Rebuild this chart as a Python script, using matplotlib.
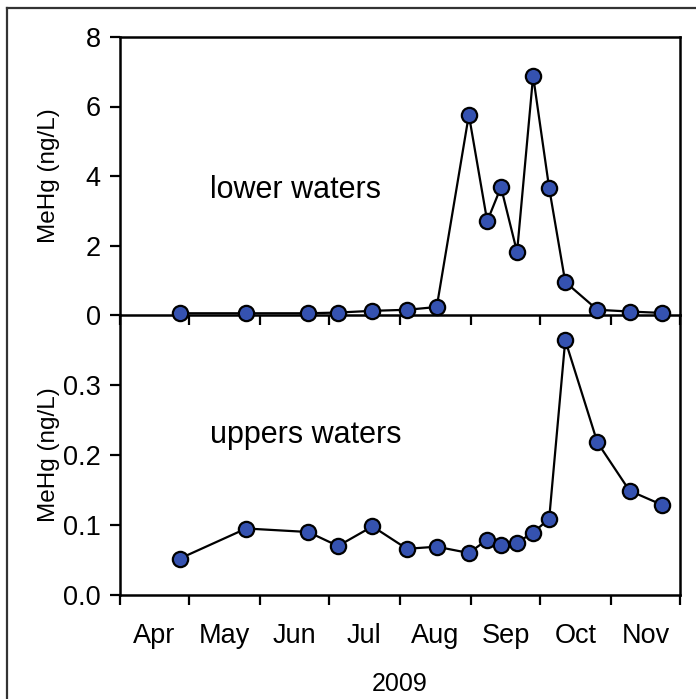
import matplotlib
matplotlib.use('Agg')
import matplotlib.pyplot as plt
import matplotlib.dates as mdates
import pandas as pd
from matplotlib.lines import Line2D
###############################################################################
plt.rcParams['font.family'] = ['Liberation Sans', 'DejaVu Sans']

sample_dates = ['2009-04-27', '2009-05-26', '2009-06-22', '2009-07-05', '2009-07-20',
                '2009-08-04', '2009-08-17', '2009-08-31', '2009-09-08', '2009-09-14',
                '2009-09-21', '2009-09-28', '2009-10-05', '2009-10-12', '2009-10-26',
                '2009-11-09', '2009-11-23']
lower_mehg = [0.05, 0.05, 0.05, 0.07, 0.12, 0.15, 0.23, 5.76, 2.70, 3.68,
              1.81, 6.88, 3.65, 0.95, 0.15, 0.10, 0.06]
upper_mehg = [0.052, 0.095, 0.090, 0.070, 0.098, 0.066, 0.069, 0.060, 0.079, 0.072,
              0.075, 0.089, 0.109, 0.364, 0.218, 0.149, 0.129]
month_labels = ['Apr', 'May', 'Jun', 'Jul', 'Aug', 'Sep', 'Oct', 'Nov']
###############################################################################
dates = pd.to_datetime(sample_dates)
month_starts = pd.date_range('2009-04-01', '2009-12-01', freq='MS')
month_mids = [a + (b - a) / 2 for a, b in zip(month_starts[:-1], month_starts[1:])]

fig = plt.figure(figsize=(6.96, 6.99), dpi=100)
# outer frame
fig.add_artist(Line2D([7/696, 7/696], [0, 1 - 8/699], color='#333333', lw=1.6))
fig.add_artist(Line2D([7/696, 1], [1 - 8/699, 1 - 8/699], color='#333333', lw=1.6))

left, right = 120/696, 680/696
ax2 = fig.add_axes([left, 1 - 595/699, right - left, (595 - 315)/699])
ax1 = fig.add_axes([left, 1 - 315/699, right - left, (315 - 37)/699])
ax1.patch.set_alpha(0)
ax2.patch.set_alpha(0)

mk = dict(marker='o', ms=11, mfc='#3552b0', mec='black', mew=1.6,
          color='black', lw=1.6, clip_on=False, zorder=5)
ax1.plot(dates, lower_mehg, **mk)
ax2.plot(dates, upper_mehg, **mk)

for ax in (ax1, ax2):
    ax.set_xlim(month_starts[0], month_starts[-1])
    ax.xaxis.set_major_locator(mdates.MonthLocator())
    ax.xaxis.set_major_formatter(plt.NullFormatter())
    ax.set_xticks(month_mids, minor=True)
    ax.tick_params(axis='x', which='minor', length=0)
    ax.tick_params(axis='both', which='major', direction='out', length=7,
                   width=1.6, labelsize=19.5, pad=7)
    for s in ax.spines.values():
        s.set_linewidth(1.8)
    ax.set_ylabel('MeHg (ng/L)', fontsize=17.5)
    ax.yaxis.set_label_coords(-0.107, 0.5)

ax1.set_ylim(0, 8)
ax1.set_yticks([0, 2, 4, 6, 8])
ax1.text(0.16, 0.45, 'lower waters', transform=ax1.transAxes, fontsize=22, va='center')

ax2.set_ylim(0, 0.4)
ax2.set_yticks([0.0, 0.1, 0.2, 0.3])
ax2.set_yticklabels(['0.0', '0.1', '0.2', '0.3'])
ax2.spines['top'].set_visible(False)
ax2.set_xticklabels(month_labels, minor=True)
ax2.tick_params(axis='x', which='minor', labelsize=19.5, pad=20)
ax2.set_xlabel('2009', fontsize=18, labelpad=17)
ax2.text(0.16, 0.57, 'uppers waters', transform=ax2.transAxes, fontsize=22, va='center')

plt.savefig('out.png', dpi=100)
print('finished')
